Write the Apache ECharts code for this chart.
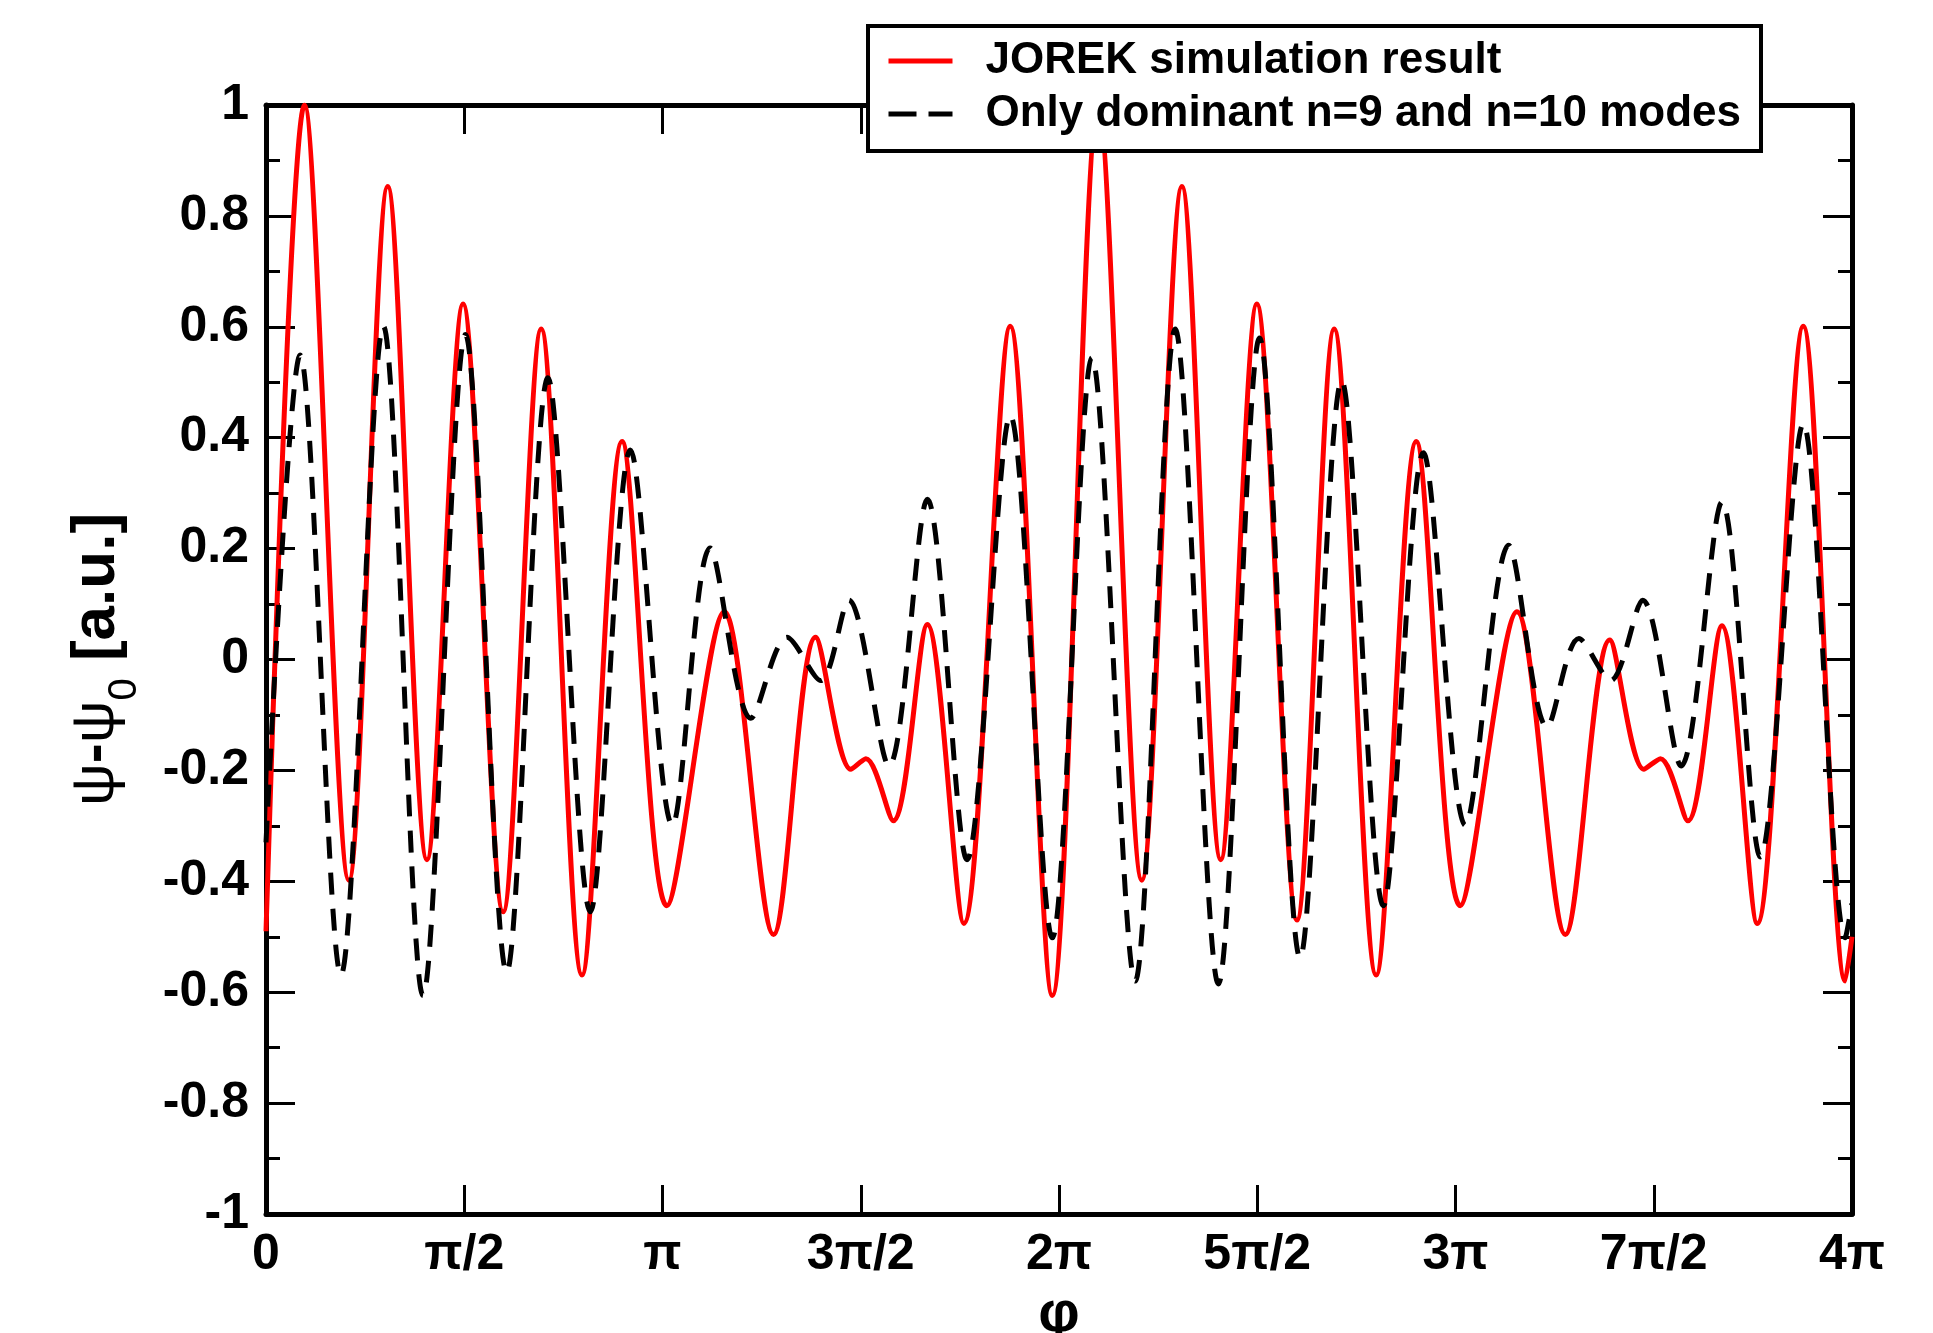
<!DOCTYPE html>
<html>
<head>
<meta charset="utf-8">
<script src="https://cdn.jsdelivr.net/npm/echarts@6/dist/echarts.min.js"></script>
<style>
html,body{margin:0;padding:0;background:#fff;}
#chart{width:1933px;height:1333px;}
</style>
</head>
<body>
<div id="chart"></div>
<script>
// phi positions are in units of pi
const xTickLabels = ['0', 'π/2', 'π', '3π/2', '2π', '5π/2', '3π', '7π/2', '4π'];
const yTickLabels = ['-1', '-0.8', '-0.6', '-0.4', '-0.2', '0', '0.2', '0.4', '0.6', '0.8', '1'];
const seriesNames = ['JOREK simulation result', 'Only dominant n=9 and n=10 modes'];

const redX = [0, 0.097, 0.209, 0.307, 0.406, 0.497, 0.598, 0.694, 0.797, 0.898,
  1.011, 1.156, 1.280, 1.386, 1.475, 1.513, 1.582, 1.668, 1.760, 1.877, 1.983,
  2.099, 2.209, 2.310, 2.408, 2.499, 2.600, 2.694, 2.800, 2.901,
  3.012, 3.155, 3.277, 3.389, 3.475, 3.517, 3.586, 3.672, 3.761, 3.877, 3.983, 4.0];
const redY = [-0.49, 1.0, -0.398, 0.853, -0.361, 0.641, -0.455, 0.596, -0.569, 0.393,
  -0.444, 0.086, -0.496, 0.040, -0.198, -0.179, -0.291, 0.063, -0.476, 0.601, -0.606,
  1.0, -0.398, 0.853, -0.361, 0.641, -0.47, 0.596, -0.569, 0.393,
  -0.444, 0.086, -0.496, 0.035, -0.198, -0.179, -0.291, 0.061, -0.476, 0.601, -0.58, -0.5];

const blackX = [0, 0.086, 0.189, 0.296, 0.396, 0.503, 0.607, 0.711, 0.818, 0.919,
  1.025, 1.120, 1.223, 1.314, 1.399, 1.470, 1.571, 1.668, 1.768, 1.877, 1.983,
  2.083, 2.192, 2.293, 2.402, 2.506, 2.608, 2.713, 2.818, 2.919,
  3.025, 3.134, 3.231, 3.311, 3.391, 3.472, 3.569, 3.672, 3.769, 3.877, 3.983, 4.0];
const blackY = [-0.33, 0.549, -0.569, 0.601, -0.606, 0.586, -0.564, 0.508, -0.455, 0.378,
  -0.299, 0.201, -0.106, 0.040, -0.038, 0.107, -0.192, 0.289, -0.361, 0.44, -0.502,
  0.544, -0.58, 0.596, -0.585, 0.58, -0.538, 0.503, -0.444, 0.373,
  -0.299, 0.206, -0.122, 0.038, -0.038, 0.107, -0.192, 0.284, -0.356, 0.425, -0.502, -0.44];

const FONT = 'Liberation Sans';
const chart = echarts.init(document.getElementById('chart'), null, {renderer: 'canvas'});

function xAxisCfg(pos) {
  const bottom = pos === 'bottom';
  return {
    type: 'value', position: pos, min: 0, max: 4, interval: 0.5,
    axisLine: {show: true, onZero: false, lineStyle: {color: '#000', width: 5}},
    axisTick: {show: true, inside: true, length: 29, lineStyle: {color: '#000', width: 3}},
    minorTick: {show: false},
    splitLine: {show: false},
    axisLabel: {
      show: bottom, margin: 16, color: '#000', fontFamily: FONT, fontWeight: 'bold', fontSize: 50,
      formatter: v => xTickLabels[Math.round(v / 0.5)]
    },
    name: bottom ? 'φ' : '', nameLocation: 'middle', nameGap: 72, nameMoveOverlap: false,
    nameTextStyle: {color: '#000', fontFamily: FONT, fontWeight: 'bold', fontSize: 58}
  };
}
function yAxisCfg(pos) {
  const left = pos === 'left';
  return {
    type: 'value', position: pos, min: -1, max: 1, interval: 0.2,
    axisLine: {show: true, onZero: false, lineStyle: {color: '#000', width: 5}},
    axisTick: {show: true, inside: true, length: 29, lineStyle: {color: '#000', width: 3}},
    minorTick: {show: true, splitNumber: 2, length: 14, lineStyle: {color: '#000', width: 3}},
    splitLine: {show: false},
    minorSplitLine: {show: false},
    axisLabel: {
      show: left, margin: 17, color: '#000', fontFamily: FONT, fontWeight: 'bold', fontSize: 50,
      formatter: v => yTickLabels[Math.round((v + 1) / 0.2)]
    },
    name: left ? '{p|ψ}{d|-}{p|ψ}{s|0}{b| [a.u.]}' : '',
    nameLocation: 'middle', nameRotate: 90, nameGap: 121, nameMoveOverlap: false,
    nameTextStyle: {
      color: '#000', fontFamily: FONT, fontSize: 60,
      rich: {
        p: {fontFamily: FONT, fontSize: 60, fontWeight: 'normal', color: '#000'},
        d: {fontFamily: FONT, fontSize: 60, fontWeight: 'bold', color: '#000'},
        s: {fontFamily: FONT, fontSize: 40, fontWeight: 'normal', color: '#000', padding: [57, 0, 0, 0]},
        b: {fontFamily: FONT, fontSize: 62, fontWeight: 'bold', color: '#000'}
      }
    }
  };
}

const option = {
  animation: false,
  backgroundColor: '#fff',
  grid: {left: 266, right: 81, top: 105, bottom: 119, containLabel: false, outerBoundsMode: 'none'},
  xAxis: [xAxisCfg('bottom'), xAxisCfg('top')],
  yAxis: [yAxisCfg('left'), yAxisCfg('right')],
  legend: {
    orient: 'vertical', left: 868, top: 26,
    padding: [10, 20, 12, 18], itemGap: 3, itemWidth: 64, itemHeight: 14,
    backgroundColor: '#fff', borderColor: '#000', borderWidth: 4, borderRadius: 0,
    itemStyle: {opacity: 0},
    textStyle: {color: '#000', fontFamily: FONT, fontWeight: 'bold', fontSize: 44, lineHeight: 50, padding: [0, 0, 0, 28]},
    data: [
      {name: seriesNames[0], itemStyle: {opacity: 0}, lineStyle: {width: 5, color: '#ff0000'}},
      {name: seriesNames[1], itemStyle: {opacity: 0}, lineStyle: {width: 5, color: '#000', type: [28, 12]}}
    ]
  },
  series: [
    {
      name: seriesNames[0], type: 'line', xAxisIndex: 0, yAxisIndex: 0,
      data: redX.map((x, i) => [x, redY[i]]),
      symbol: 'none', smooth: 0.32, clip: true,
      lineStyle: {color: '#ff0000', width: 5}, itemStyle: {color: '#ff0000'}, z: 2
    },
    {
      name: seriesNames[1], type: 'line', xAxisIndex: 0, yAxisIndex: 0,
      data: blackX.map((x, i) => [x, blackY[i]]),
      symbol: 'none', smooth: 0.32, clip: true,
      lineStyle: {color: '#000', width: 5, type: [22, 14]}, itemStyle: {color: '#000'}, z: 3
    }
  ]
};
chart.setOption(option);
</script>
</body>
</html>
